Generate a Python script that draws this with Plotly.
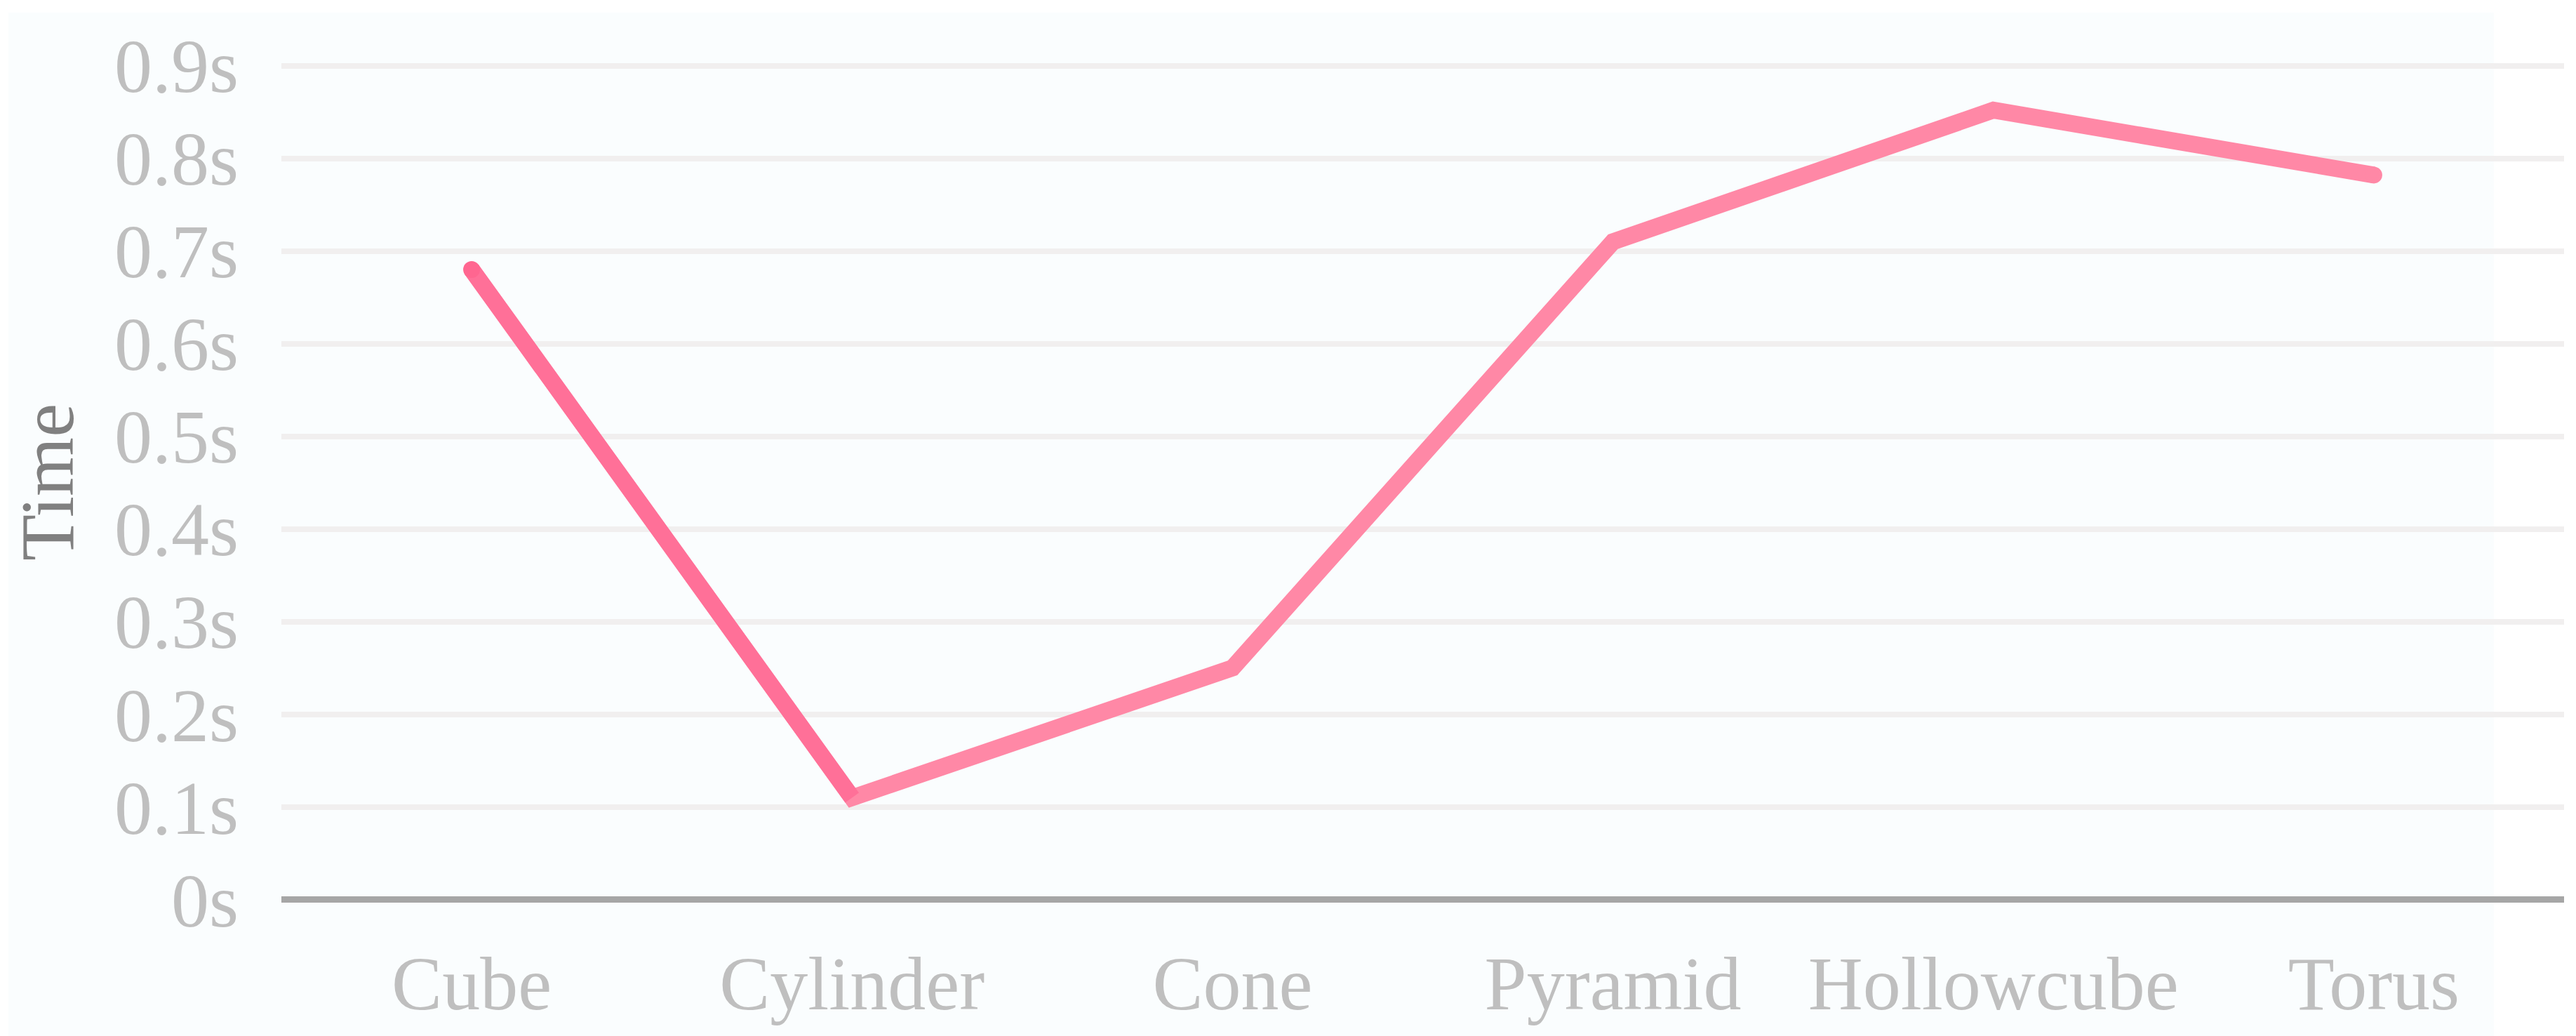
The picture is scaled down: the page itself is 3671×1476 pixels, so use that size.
import plotly.graph_objects as go

categories = ["Cube", "Cylinder", "Cone", "Pyramid", "Hollowcube", "Torus"]
times = [0.68, 0.11, 0.25, 0.71, 0.852, 0.782]
tick_vals = [0, 0.1, 0.2, 0.3, 0.4, 0.5, 0.6, 0.7, 0.8, 0.9]
tick_text = ["0s", "0.1s", "0.2s", "0.3s", "0.4s", "0.5s", "0.6s", "0.7s", "0.8s", "0.9s"]

FONT = "Liberation Serif"
FS = 108
LW = 24

fig = go.Figure()
# whole line in light pink, first segment darker (approximates the gradient)
fig.add_trace(go.Scatter(x=categories, y=times, mode="lines",
                         line=dict(color="#FF88A6", width=LW), hoverinfo="skip",
                         showlegend=False))
fig.add_trace(go.Scatter(x=categories[:2], y=times[:2], mode="lines",
                         line=dict(color="#FF7098", width=LW), showlegend=False))
fig.add_trace(go.Scatter(x=categories[:1], y=times[:1], mode="markers",
                         marker=dict(color="#FF6690", size=LW), showlegend=False))
fig.add_trace(go.Scatter(x=categories[-1:], y=times[-1:], mode="markers",
                         marker=dict(color="#FF88A6", size=LW), showlegend=False))

fig.update_layout(
    width=3671, height=1476,
    paper_bgcolor="#FFFFFF", plot_bgcolor="rgba(0,0,0,0)",
    margin=dict(l=393, r=25, t=79, b=197),
    showlegend=False,
    font=dict(family=FONT, color="#BFBFBF", size=FS),
    shapes=[dict(type="rect", xref="paper", yref="paper",
                 x0=-0.1196, x1=0.9692, y0=-0.165, y1=1.0575,
                 fillcolor="#FAFDFE", line=dict(width=0), layer="below")],
)
fig.update_xaxes(
    type="category", range=[-0.5, 5.5], showgrid=False, zeroline=False,
    showline=False, tickfont=dict(family=FONT, size=FS, color="#BFBFBF"),
    ticklabelstandoff=42,
)
fig.update_yaxes(
    range=[-0.004, 0.905], tickmode="array", tickvals=tick_vals, ticktext=tick_text,
    showgrid=True, gridcolor="#F1EFEF", gridwidth=8,
    zeroline=True, zerolinecolor="#A6A6A6", zerolinewidth=9,
    tickfont=dict(family=FONT, size=FS, color="#BFBFBF"),
    ticklabelstandoff=60,
    title=dict(text="Time", font=dict(family=FONT, size=FS, color="#808080"), standoff=30),
)
fig.write_html("out.html")
